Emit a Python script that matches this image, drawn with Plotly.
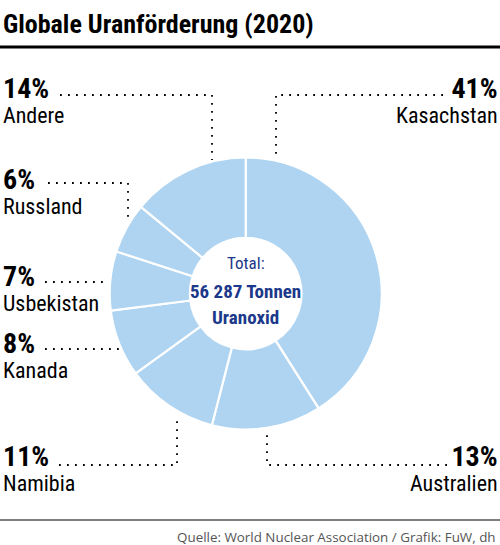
import plotly.graph_objects as go

# ---------------- data ----------------
countries = ["Kasachstan", "Australien", "Namibia", "Kanada", "Usbekistan", "Russland", "Andere"]
shares = [41, 13, 11, 8, 7, 6, 14]
share_labels = ["41%", "13%", "11%", "8%", "7%", "6%", "14%"]
title_text = "Globale Uranförderung (2020)"
center_lines = ["Total:", "56 287 Tonnen", "Uranoxid"]
source_text = "Quelle: World Nuclear Association / Grafik: FuW, dh"

# ---------------- layout helpers ----------------
W, H = 500, 545
def px(x):
    return x / W
def py(y):
    return 1 - y / H

COND = "Roboto Condensed, Liberation Sans Narrow, sans-serif"
BLUE = "#aed4f1"
NAVY = "#1b388a"

# label placement: (side, y of label block centre, leader path in px)
placement = {
    "Kasachstan": ("right", 100, [(443, 95), (276, 95), (276, 158)]),
    "Australien": ("right", 468, [(447, 465), (267, 465), (267, 433)]),
    "Namibia":    ("left", 468, [(59, 465), (177, 465), (177, 417)]),
    "Kanada":     ("left", 355, [(45, 349), (120, 349)]),
    "Usbekistan": ("left", 288, [(45, 282), (103, 282)]),
    "Russland":   ("left", 191, [(48, 183), (128, 183), (128, 222)]),
    "Andere":     ("left", 100, [(60, 95), (212, 95), (212, 160)]),
}

# pie geometry (pixels)
cx, cy, r = 245.7, 293.5, 136

fig = go.Figure()
fig.add_trace(go.Pie(
    labels=countries,
    values=shares,
    sort=False,
    direction="clockwise",
    rotation=0,
    hole=0.41,
    textinfo="none",
    hoverinfo="label+percent",
    marker=dict(colors=[BLUE] * len(countries), line=dict(color="white", width=2.2)),
    domain=dict(x=[px(cx - r), px(cx + r)], y=[py(cy + r), py(cy - r)]),
    showlegend=False,
))

annotations = []
shapes = []

# title
annotations.append(dict(text="<b>" + title_text + "</b>", x=px(1), y=py(24), xref="paper", yref="paper",
                        xanchor="left", yanchor="middle", showarrow=False,
                        font=dict(family=COND, size=26, color="black")))

for name, lab in zip(countries, share_labels):
    side, yc, path = placement[name]
    if side == "left":
        xa, xx = "left", px(1)
    else:
        xa, xx = "right", px(500)
    txt = ("<span style='font-size:28px'><b>" + lab + "</b></span><br>"
           "<span style='font-size:22px'>" + name + "</span>")
    annotations.append(dict(text=txt, x=xx, y=py(yc), xref="paper", yref="paper",
                            xanchor=xa, yanchor="middle", align=side, showarrow=False,
                            font=dict(family=COND, size=19.5, color="black")))
    d = "M " + " L ".join(f"{px(x)},{py(y)}" for x, y in path)
    shapes.append(dict(type="path", path=d, xref="paper", yref="paper",
                       line=dict(color="black", width=1.8, dash="1.8px,6.2px")))

# center text
annotations.append(dict(text=center_lines[0], x=px(cx), y=py(263), xref="paper", yref="paper",
                        xanchor="center", yanchor="middle", showarrow=False,
                        font=dict(family=COND, size=17, color=NAVY)))
annotations.append(dict(text="<b>" + center_lines[1] + "</b>", x=px(cx), y=py(291), xref="paper", yref="paper",
                        xanchor="center", yanchor="middle", showarrow=False,
                        font=dict(family=COND, size=19, color=NAVY)))
annotations.append(dict(text="<b>" + center_lines[2] + "</b>", x=px(cx), y=py(317), xref="paper", yref="paper",
                        xanchor="center", yanchor="middle", showarrow=False,
                        font=dict(family=COND, size=19, color=NAVY)))

# source
annotations.append(dict(text=source_text, x=px(498), y=py(537), xref="paper", yref="paper",
                        xanchor="right", yanchor="middle", showarrow=False,
                        font=dict(family="Open Sans, sans-serif", size=13.4, color="#555555")))

# rules
shapes.append(dict(type="line", x0=0, x1=1, y0=py(47), y1=py(47), xref="paper", yref="paper",
                   line=dict(color="black", width=3)))
shapes.append(dict(type="line", x0=0, x1=1, y0=py(520), y1=py(520), xref="paper", yref="paper",
                   line=dict(color="#555555", width=1.3)))

fig.update_layout(
    width=W, height=H,
    margin=dict(l=0, r=0, t=0, b=0),
    paper_bgcolor="white", plot_bgcolor="white",
    annotations=annotations, shapes=shapes,
)

fig.write_html("out.html", post_script="document.body.style.margin='0px';",
               config={"displayModeBar": False})
